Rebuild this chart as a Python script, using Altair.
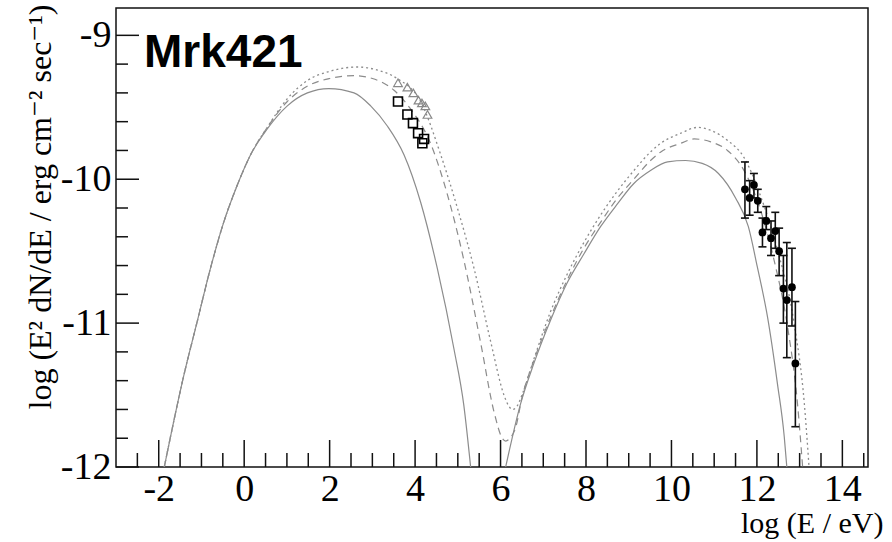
import altair as alt
import pandas as pd

# ---- model curves ----
solid_sync_x = [-1.87, -1.41, -1.10, -0.79, -0.48, -0.16, 0.15, 0.54, 1.01, 1.48, 1.98, 2.57, 2.96, 3.35, 3.74, 4.13, 4.52, 4.91, 5.14, 5.30]
solid_sync_y = [-12.0, -11.36, -10.99, -10.62, -10.30, -10.04, -9.83, -9.65, -9.49, -9.40, -9.37, -9.40, -9.49, -9.63, -9.83, -10.16, -10.62, -11.18, -11.57, -12.0]

solid_ic_x = [6.12, 6.47, 6.78, 7.17, 7.56, 7.95, 8.34, 8.74, 9.12, 9.51, 9.91, 10.33, 10.72, 11.10, 11.50, 11.80, 12.01, 12.25, 12.48, 12.64, 12.70]
solid_ic_y = [-12.0, -11.56, -11.28, -10.98, -10.72, -10.52, -10.33, -10.17, -10.03, -9.94, -9.88, -9.87, -9.89, -9.96, -10.13, -10.33, -10.61, -10.96, -11.42, -11.79, -12.0]

dashed_x = [-1.87, -1.41, -1.10, -0.79, -0.48, -0.16, 0.15, 0.54, 1.01, 1.50, 2.00, 2.57, 3.00, 3.50, 3.89, 4.36, 4.75, 5.14, 5.53, 5.85, 6.04, 6.12, 6.22, 6.36, 6.50, 6.78, 7.17, 7.56, 7.95, 8.34, 8.74, 9.12, 9.51, 9.75, 10.22, 10.53, 10.92, 11.31, 11.70, 12.09, 12.40, 12.72, 12.95, 13.07]
dashed_y = [-12.0, -11.36, -10.99, -10.62, -10.30, -10.04, -9.83, -9.64, -9.46, -9.35, -9.30, -9.28, -9.30, -9.38, -9.51, -9.75, -10.10, -10.56, -11.13, -11.62, -11.80, -11.82, -11.80, -11.72, -11.52, -11.26, -10.96, -10.70, -10.48, -10.30, -10.13, -10.00, -9.87, -9.81, -9.75, -9.72, -9.74, -9.80, -9.94, -10.22, -10.56, -11.03, -11.56, -12.0]

dotted_x = [-1.87, -1.41, -1.10, -0.79, -0.48, -0.16, 0.15, 0.54, 1.01, 1.50, 2.00, 2.65, 3.10, 3.58, 4.13, 4.60, 4.99, 5.38, 5.77, 6.08, 6.18, 6.28, 6.38, 6.50, 6.78, 7.17, 7.56, 7.95, 8.34, 8.74, 9.12, 9.51, 9.75, 10.22, 10.61, 10.92, 11.31, 11.70, 12.09, 12.48, 12.87, 13.11, 13.22]
dotted_y = [-12.0, -11.36, -10.99, -10.62, -10.30, -10.04, -9.83, -9.64, -9.44, -9.31, -9.25, -9.22, -9.24, -9.30, -9.46, -9.83, -10.20, -10.62, -11.13, -11.50, -11.57, -11.60, -11.58, -11.50, -11.25, -10.92, -10.66, -10.44, -10.25, -10.08, -9.94, -9.81, -9.75, -9.68, -9.64, -9.66, -9.73, -9.85, -10.12, -10.49, -11.0, -11.56, -12.0]

# ---- measurements ----
square_x = [3.60, 3.82, 3.95, 4.07, 4.17, 4.21]
square_y = [-9.46, -9.55, -9.61, -9.68, -9.75, -9.72]

tri_x = [3.60, 3.82, 3.96, 4.08, 4.16, 4.24, 4.29]
tri_y = [-9.33, -9.36, -9.40, -9.45, -9.47, -9.49, -9.55]

tev_x = [11.72, 11.83, 11.93, 12.02, 12.13, 12.22, 12.33, 12.43, 12.52, 12.62, 12.70, 12.82, 12.90]
tev_y = [-10.07, -10.13, -10.04, -10.15, -10.37, -10.29, -10.41, -10.36, -10.50, -10.76, -10.84, -10.75, -11.28]
tev_lo = [-10.27, -10.25, -10.13, -10.23, -10.47, -10.35, -10.53, -10.48, -10.67, -11.00, -11.24, -11.02, -11.72]
tev_hi = [-9.88, -10.01, -9.96, -10.07, -10.27, -10.19, -10.29, -10.23, -10.34, -10.53, -10.44, -10.48, -10.85]

# ---- axes ----
x_major = [-2, 0, 2, 4, 6, 8, 10, 12, 14]
x_minor = [v / 2 for v in range(-5, 30) if v % 4 != 0]
y_major = [-12, -11, -10, -9]
y_minor = [round(-12 + 0.2 * i, 2) for i in range(1, 16) if i % 5 != 0]

W, H = 752, 459
SERIF = "Liberation Serif, DejaVu Serif, serif"
CURVE = "#8c8c8c"

xscale = alt.Scale(domain=[-3, 14.6], nice=False, zero=False)
yscale = alt.Scale(domain=[-12, -8.81], nice=False, zero=False)

xaxis = alt.Axis(values=x_major, ticks=False, domain=False, grid=False,
                 labelFont=SERIF, labelFontSize=38, labelColor="black",
                 labelPadding=3, labelFlush=False, labelExpr="'' + datum.value",
                 title="log (E / eV)", titleFont=SERIF, titleFontSize=30,
                 titleFontWeight="normal", titleColor="black",
                 titleX=767, titleY=65, titleAlign="right", titleBaseline="alphabetic")
yaxis = alt.Axis(values=y_major, ticks=False, domain=False, grid=False,
                 labelFont=SERIF, labelFontSize=38, labelColor="black",
                 labelPadding=5, labelFlush=False, labelExpr="'' + datum.value",
                 title="log (E² dN/dE / erg cm⁻² sec⁻¹)", titleFont=SERIF, titleFontSize=32,
                 titleFontWeight="normal", titleColor="black", titleAngle=270,
                 titleX=-66, titleY=-4, titleAlign="right", titleBaseline="alphabetic")

X = lambda f="x": alt.X(f"{f}:Q", scale=xscale, axis=xaxis)
Y = lambda f="y": alt.Y(f"{f}:Q", scale=yscale, axis=yaxis)

solid_df = pd.concat([
    pd.DataFrame({"x": solid_sync_x, "y": solid_sync_y, "seg": "sync"}),
    pd.DataFrame({"x": solid_ic_x, "y": solid_ic_y, "seg": "ic"}),
])
dashed_df = pd.DataFrame({"x": dashed_x, "y": dashed_y})
dotted_df = pd.DataFrame({"x": dotted_x, "y": dotted_y})
sq_df = pd.DataFrame({"x": square_x, "y": square_y})
tri_df = pd.DataFrame({"x": tri_x, "y": tri_y})
tev_df = pd.DataFrame({"x": tev_x, "y": tev_y, "lo": tev_lo, "hi": tev_hi})

solid = alt.Chart(solid_df).mark_line(color=CURVE, strokeWidth=1.2, interpolate="monotone", clip=True).encode(
    x=X(), y=Y(), detail="seg:N")
dashed = alt.Chart(dashed_df).mark_line(color=CURVE, strokeWidth=1.2, strokeDash=[7, 5], interpolate="monotone", clip=True).encode(
    x=X(), y=Y())
dotted = alt.Chart(dotted_df).mark_line(color=CURVE, strokeWidth=1.3, strokeDash=[2, 3], interpolate="monotone", clip=True).encode(
    x=X(), y=Y())

tris = alt.Chart(tri_df).mark_point(shape="triangle-up", filled=False, color="#888888", strokeWidth=1.2, size=75, opacity=1).encode(
    x=X(), y=Y())
squares = alt.Chart(sq_df).mark_point(shape="square", filled=False, color="black", strokeWidth=1.6, size=80, opacity=1).encode(
    x=X(), y=Y())

ebar = alt.Chart(tev_df).mark_rule(color="#111111", strokeWidth=1.6).encode(
    x=X(), y=Y("lo"), y2="hi:Q")
cap_lo = alt.Chart(tev_df).mark_tick(orient="horizontal", color="#111111", size=8, thickness=1.6, opacity=1).encode(
    x=X(), y=Y("lo"))
cap_hi = alt.Chart(tev_df).mark_tick(orient="horizontal", color="#111111", size=8, thickness=1.6, opacity=1).encode(
    x=X(), y=Y("hi"))
dots = alt.Chart(tev_df).mark_circle(color="black", size=60, opacity=1).encode(
    x=X(), y=Y())

xt_major = alt.Chart(pd.DataFrame({"x": x_major})).mark_rule(color="#111111", strokeWidth=1.5).encode(
    x=X(), y=alt.value(H), y2=alt.value(H - 27))
xt_minor = alt.Chart(pd.DataFrame({"x": x_minor})).mark_rule(color="#111111", strokeWidth=1.5).encode(
    x=X(), y=alt.value(H), y2=alt.value(H - 14))
yt_major = alt.Chart(pd.DataFrame({"y": y_major})).mark_rule(color="#111111", strokeWidth=1.5).encode(
    y=Y(), x=alt.value(0), x2=alt.value(23))
yt_minor = alt.Chart(pd.DataFrame({"y": y_minor})).mark_rule(color="#111111", strokeWidth=1.5).encode(
    y=Y(), x=alt.value(0), x2=alt.value(12))

label = alt.Chart(pd.DataFrame({"t": ["Mrk421"]})).mark_text(
    font="Liberation Sans, Arial, sans-serif", fontSize=46, fontWeight="bold", color="black",
    align="left", baseline="alphabetic").encode(
    text="t:N", x=alt.value(28), y=alt.value(59))

chart = alt.layer(
    solid, dashed, dotted, tris, squares, ebar, cap_lo, cap_hi, dots,
    xt_major, xt_minor, yt_major, yt_minor, label
).properties(
    width=W, height=H, autosize="none",
    padding={"left": 116, "top": 8, "right": 892 - 116 - W, "bottom": 542 - 8 - H},
    background="white",
).configure_view(stroke="#111111", strokeWidth=1.5)

chart.save("out.html", embed_options={"renderer": "svg", "actions": False})
